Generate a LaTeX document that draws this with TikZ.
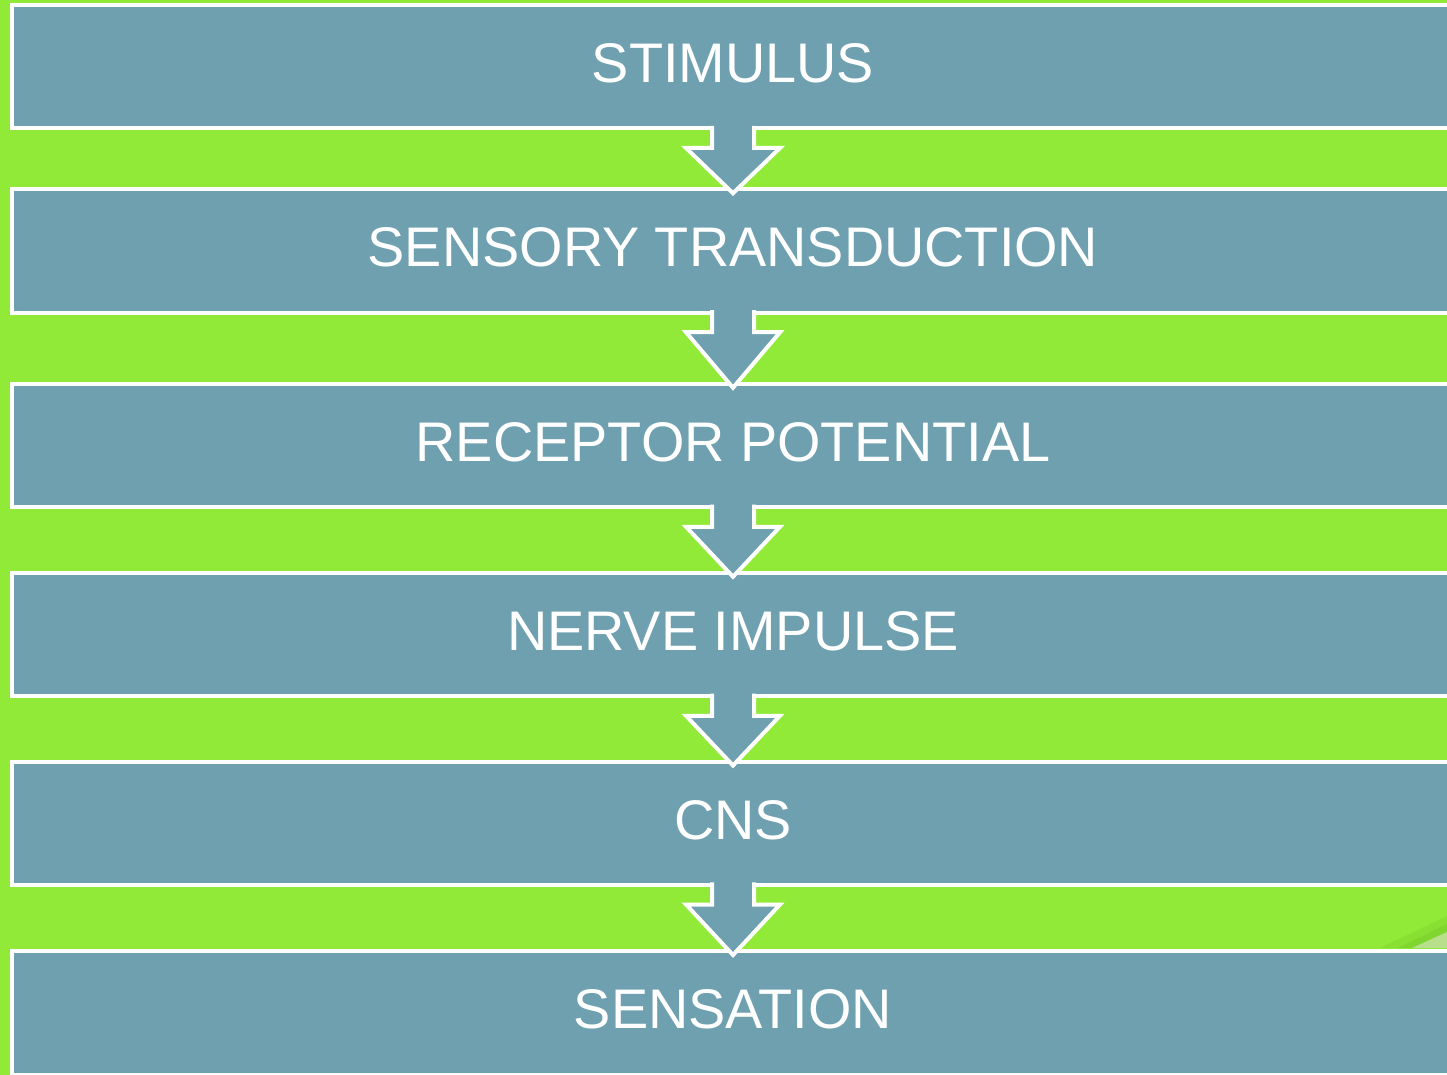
\documentclass[tikz,border=0pt]{standalone}
\usepackage{fontspec}
\setmainfont{Liberation Sans}
\usetikzlibrary{calc}
\definecolor{leaf}{RGB}{146,234,56}
\definecolor{slate}{RGB}{110,160,176}
\definecolor{curl}{RGB}{184,224,140}
\definecolor{curlshade}{RGB}{112,196,40}
\tikzset{
  stagebox/.style={draw=white, fill=slate, line width=2pt, outer sep=0pt,
    minimum width=721pt, minimum height=61.75pt, inner sep=0pt,
    text=white, font=\fontsize{27.9}{32}\selectfont,
    text height=20pt, text depth=4pt},
  flowarrow/.style={draw=white, fill=slate, line width=2pt, line join=miter}
}
% one-step block arrow from box #1 down into box #2
\newcommand{\stagearrow}[2]{%
  \filldraw[flowarrow]
    ($(#1.south)+(-21,-2.6)$) -- ($(#1.south)+(-21,19.5)$) --
    ($(#1.south)+(-47,19.5)$) -- ($(#2.north)+(0,4)$) --
    ($(#1.south)+(47,19.5)$) -- ($(#1.south)+(21,19.5)$) --
    ($(#1.south)+(21,-2.6)$);}
\begin{document}
\begin{tikzpicture}[x=0.5pt, y=-0.5pt]
  \useasboundingbox (0,0) rectangle (1447,1075);
  \clip (0,0) rectangle (1447,1075);
  \fill[leaf] (0,0) rectangle (1447,1075);

  % page curl peeking out at the lower right
  \fill[curlshade, opacity=0.25] (1380,948) -- (1447,916) -- (1447,948) -- cycle;
  \fill[curlshade, opacity=0.35] (1398,948) -- (1447,924) -- (1447,948) -- cycle;
  \fill[curl] (1412,948) -- (1447,932) -- (1447,948) -- cycle;

  \node[stagebox] (b1) at (733,66.75)  {STIMULUS};
  \node[stagebox] (b2) at (733,251)    {SENSORY TRANSDUCTION};
  \node[stagebox] (b3) at (733,445.5)  {RECEPTOR POTENTIAL};
  \node[stagebox] (b4) at (733,634.5)  {NERVE IMPULSE};
  \node[stagebox] (b5) at (733,823.25) {CNS};
  \node[stagebox] (b6) at (733,1012.75){SENSATION};

  \stagearrow{b1}{b2}
  \stagearrow{b2}{b3}
  \stagearrow{b3}{b4}
  \stagearrow{b4}{b5}
  \stagearrow{b5}{b6}
\end{tikzpicture}
\end{document}
